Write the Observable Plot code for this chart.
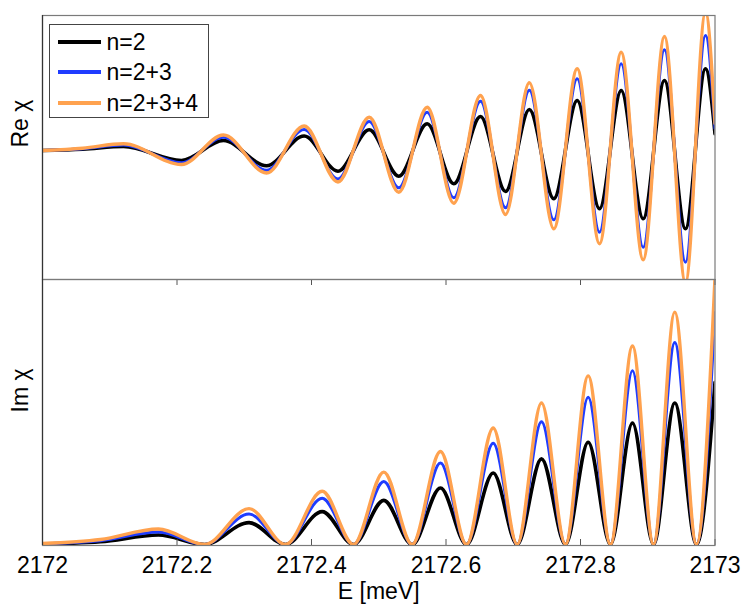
<!DOCTYPE html>
<html><head><meta charset="utf-8">
<script src="https://cdn.jsdelivr.net/npm/d3@7"></script>
<script src="https://cdn.jsdelivr.net/npm/@observablehq/plot@0.6"></script>
<style>
body{margin:0;background:#fff;font-family:"Liberation Sans",Arial,sans-serif;}
#wrap{position:relative;width:747px;height:607px;}
#wrap svg{overflow:visible;display:block;}
.legend{position:absolute;left:48.5px;top:23.5px;width:160px;height:94px;border:1px solid #444;background:#fff;box-sizing:border-box;}
.row{position:absolute;left:0;height:30px;width:158px;}
.sw{position:absolute;left:8px;width:43px;height:4px;top:13px;}
.lab{position:absolute;left:57px;top:0;font-size:23px;line-height:30px;color:#000;}
</style></head>
<body><div id="wrap"></div>
<script>
// x axis
const xTicks = [2172, 2172.2, 2172.4, 2172.6, 2172.8, 2173];
const seriesNames = ["n=2", "n=2+3", "n=2+3+4"];
const seriesColors = ["#000000", "#1f3cff", "#ffa24f"];

// Re chi (arb. units): energies of read extrema
const reE = [2172.0, 2172.06, 2172.1204, 2172.2067, 2172.2691, 2172.3331, 2172.3891, 2172.4394, 2172.4858, 2172.5298, 2172.5720, 2172.6116, 2172.6513, 2172.6885, 2172.7239, 2172.7603, 2172.7951, 2172.8283, 2172.8605, 2172.8932, 2172.9249, 2172.9561, 2172.9859, 2173.0];
const reN2   = [0, 1.3, 4, -10, 10, -15.2, 14.5, -20.7, 20.7, -25.7, 26.7, -33.3, 34, -41, 41, -48.3, 50, -58.3, 60, -68.3, 70, -78.3, 81.7, 16.7];
const reN23  = [0, 1.8, 5.5, -12.2, 13.3, -19.8, 21, -28.5, 29, -37.3, 38.3, -47.3, 49.3, -57.3, 60.3, -69.3, 71.7, -81.7, 86.7, -96.7, 100.7, -111.7, 115, 22];
const reN234 = [0, 2.3, 6.7, -14, 15.5, -22.5, 24.5, -31.5, 33.3, -41.7, 43.3, -52.7, 55, -64, 67.8, -78.3, 81.7, -93.3, 98.3, -109.3, 114, -132, 138, 27];
const reDomain = [-129, 135];

// Im chi (arb. units)
const imE = [2172.0, 2172.0862, 2172.1725, 2172.2409, 2172.3071, 2172.3613, 2172.4159, 2172.4625, 2172.5075, 2172.5497, 2172.5918, 2172.6305, 2172.6702, 2172.7059, 2172.7420, 2172.7777, 2172.8114, 2172.8446, 2172.8773, 2172.9086, 2172.9402, 2172.9725, 2173.0];
const imN2   = [0.5, 2.7, 9.5, 0, 22, 0, 33, 0, 44.3, 0, 56.7, 0, 71.7, 0, 86, 0, 102.7, 0, 122, 0, 142, 0, 162.7];
const imN23  = [0.7, 3.8, 12.5, 0, 30.5, 0, 46.5, 0, 63.3, 0, 81.7, 0, 101.7, 0, 123.3, 0, 147.7, 0, 174.3, 0, 202.7, 0, 232.7];
const imN234 = [1, 5, 15.5, 0, 36, 0, 53.5, 0, 72.7, 0, 93.3, 0, 117, 0, 142, 0, 169.3, 0, 199.3, 0, 233.3, 0, 268];
const imDomain = [-1, 266];

const widths = [3.6, 3.0, 3.4];
const rows = (E, v) => E.map((e, i) => ({E: e, v: v[i]}));
const reSeries = [reN2, reN23, reN234];
const imSeries = [imN2, imN23, imN234];
const font = "'Liberation Sans', Arial, sans-serif";

const lineMarks = (E, series) => series.map((s, k) =>
  Plot.line(rows(E, s), {x: "E", y: "v", stroke: seriesColors[k], strokeWidth: widths[k], curve: "monotone-x", clip: true}));

const topPlot = Plot.plot({
  width: 747, height: 279, marginTop: 15, marginBottom: 0, marginLeft: 42, marginRight: 32.5,
  style: {fontFamily: font, background: "transparent"},
  x: {domain: [xTicks[0], xTicks[xTicks.length - 1]], axis: null},
  y: {domain: reDomain, axis: null},
  marks: [
    ...lineMarks(reE, reSeries),
    Plot.frame({stroke: "#7a7a7a", strokeWidth: 1.2}),
    Plot.ruleX([xTicks[0]], {stroke: "#333", strokeWidth: 1.2}),
    Plot.text(["Re \u03c7"], {text: d => d, frameAnchor: "left", dx: -22, rotate: -90, fontSize: 23, fill: "#000"})
  ]
});

const bottomPlot = Plot.plot({
  width: 747, height: 328, marginTop: 0, marginBottom: 62, marginLeft: 42, marginRight: 32.5,
  style: {fontFamily: font, background: "transparent"},
  x: {domain: [xTicks[0], xTicks[xTicks.length - 1]]},
  y: {domain: imDomain, axis: null},
  marks: [
    ...lineMarks(imE, imSeries),
    Plot.tickX(xTicks, {x: d => d, stroke: "#555", insetTop: 260}),
    Plot.tickX(xTicks, {x: d => d, stroke: "#555", insetBottom: 260}),
    Plot.frame({stroke: "#7a7a7a", strokeWidth: 1.2}),
    Plot.ruleX([xTicks[0]], {stroke: "#333", strokeWidth: 1.2}),
    Plot.axisX({ticks: xTicks, tickSize: 0, tickPadding: 11, tickFormat: d => String(d), fontSize: 23, label: null, fill: "#000"}),
    Plot.text(["E [meV]"], {text: d => d, frameAnchor: "bottom", dy: 53, fontSize: 23, fill: "#000"}),
    Plot.text(["Im \u03c7"], {text: d => d, frameAnchor: "left", dx: -22, rotate: -90, fontSize: 23, fill: "#000"})
  ]
});

const wrap = document.getElementById("wrap");
wrap.appendChild(topPlot);
wrap.appendChild(bottomPlot);

const legend = document.createElement("div");
legend.className = "legend";
seriesNames.forEach((name, k) => {
  const r = document.createElement("div");
  r.className = "row";
  r.style.top = (2 + k * 30.5) + "px";
  const sw = document.createElement("div");
  sw.className = "sw";
  sw.style.background = seriesColors[k];
  const lab = document.createElement("div");
  lab.className = "lab";
  lab.textContent = name;
  r.appendChild(sw); r.appendChild(lab);
  legend.appendChild(r);
});
wrap.appendChild(legend);
</script></body></html>
